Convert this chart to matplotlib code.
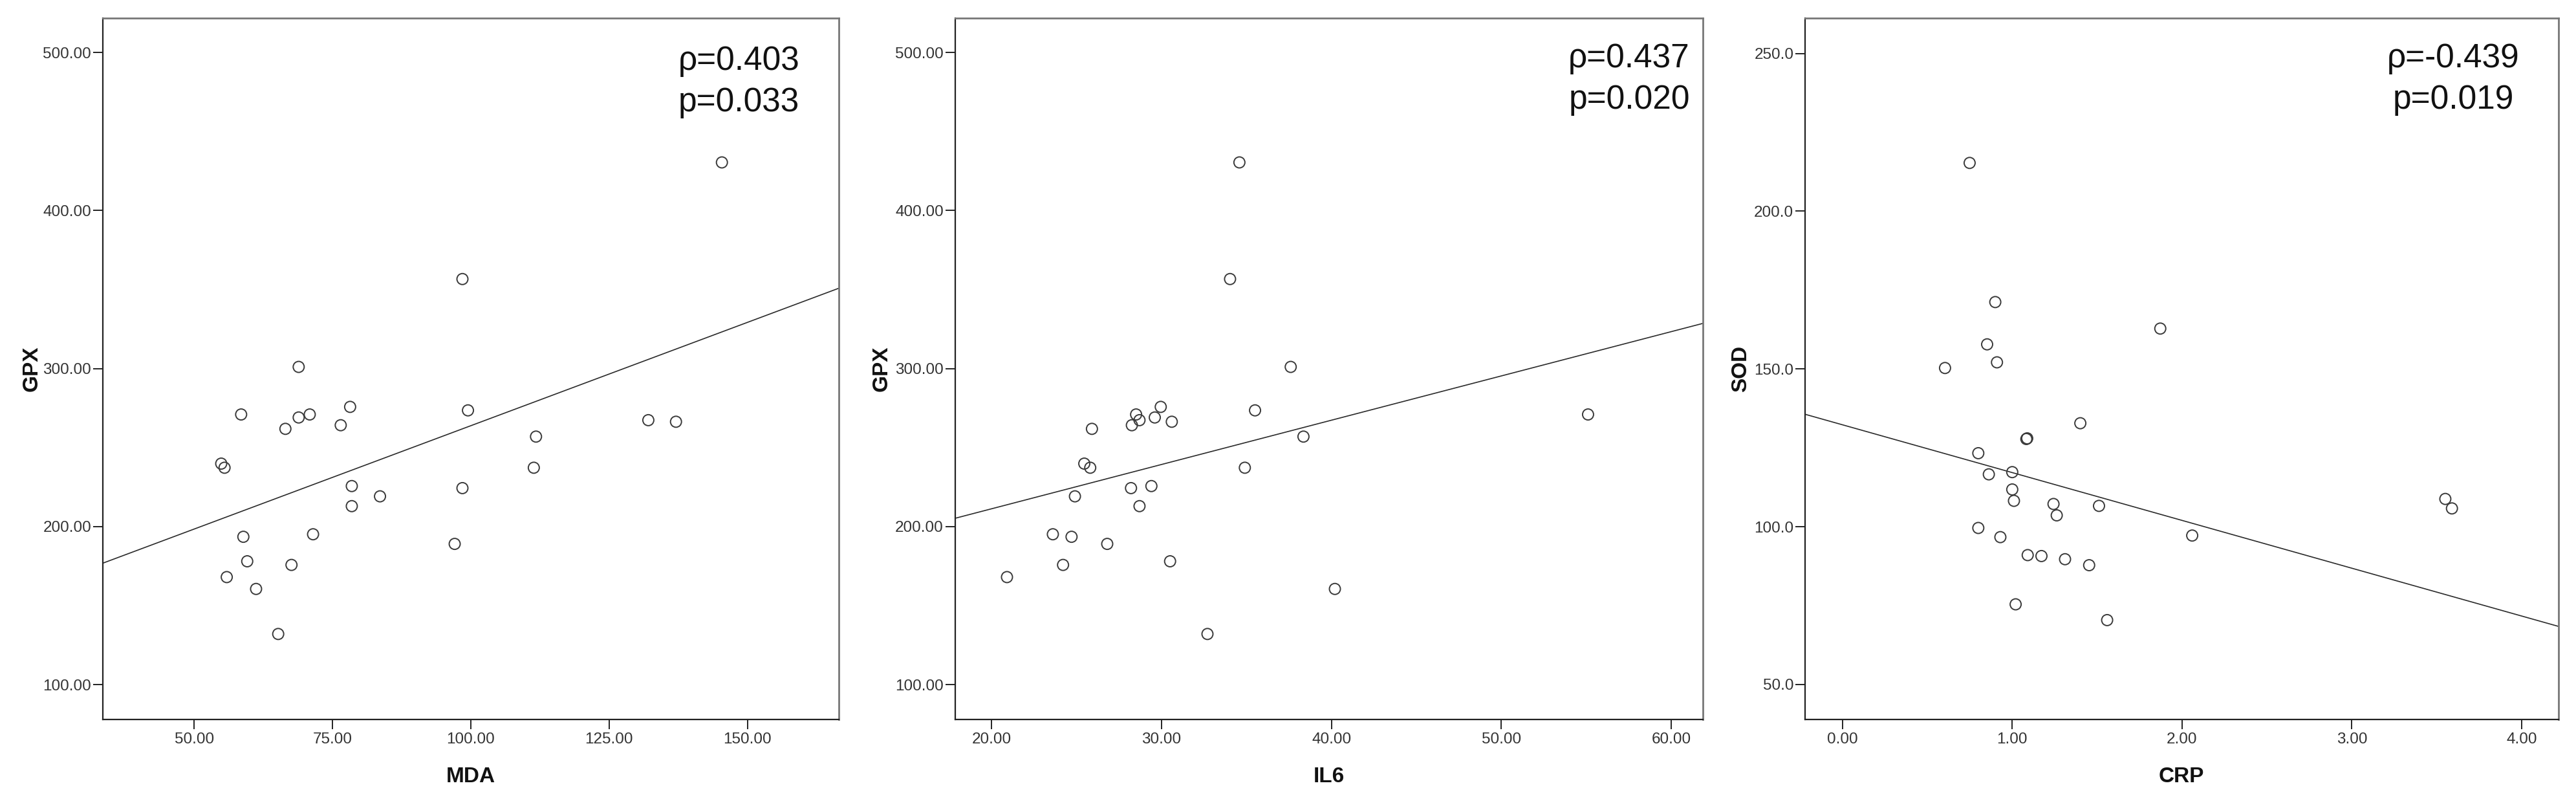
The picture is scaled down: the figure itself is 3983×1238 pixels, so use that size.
import numpy as np
import matplotlib
matplotlib.use("Agg")
import matplotlib.pyplot as plt
from matplotlib import font_manager as fm
from matplotlib.ticker import FormatStrFormatter, FixedLocator

# ---------------- data ----------------
MDA = [145.4, 98.5, 68.9, 58.5, 68.9, 70.9, 66.5, 78.2, 76.5, 99.5, 132.1, 137.1, 111.8, 111.4,
       54.9, 55.5, 78.5, 78.5, 83.6, 98.5, 58.9, 71.5, 97.1, 59.6, 67.6, 55.9, 61.2, 65.2]
IL6 = [34.58, 34.03, 37.6, 55.1, 29.6, 28.5, 25.9, 29.95, 28.25, 35.5, 28.7, 30.6, 38.35, 34.9,
       25.45, 25.8, 29.4, 28.7, 24.9, 28.2, 24.7, 23.6, 26.8, 30.5, 24.2, 20.9, 40.2, 32.7]
GPX = [430.4, 356.6, 301.0, 270.9, 269.0, 270.9, 261.8, 275.7, 264.1, 273.5, 267.3, 266.3, 256.9, 237.2,
       239.8, 237.2, 225.6, 212.9, 219.1, 224.3, 193.5, 195.1, 189.0, 178.0, 175.7, 168.0, 160.5, 132.0]
CRP = [0.749, 0.90, 1.872, 0.852, 0.910, 0.604, 1.401, 1.083, 1.088, 0.80, 1.0, 0.862, 1.0, 1.010,
       1.243, 1.262, 1.511, 3.551, 3.590, 0.80, 0.930, 2.060, 1.091, 1.172, 1.311, 1.453, 1.020, 1.559]
SOD = [215.3, 171.2, 162.8, 157.8, 152.1, 150.3, 132.8, 127.8, 128.0, 123.3, 117.3, 116.6, 111.8, 108.2,
       107.2, 103.6, 106.6, 108.8, 105.8, 99.6, 96.7, 97.2, 91.0, 90.7, 89.7, 87.8, 75.4, 70.4]

# fit lines (intercept, slope) as drawn in the reference
FIT_MDA = (133.0, 1.3077)
FIT_IL6 = (155.2, 2.802)
FIT_CRP = (132.3, -15.15)

RHO_LABELS = ["ρ=0.403", "ρ=0.437", "ρ=-0.439"]
P_LABELS = ["p=0.033", "p=0.020", "p=0.019"]

X_LABELS = ["MDA", "IL6", "CRP"]
Y_LABELS = ["GPX", "GPX", "SOD"]

MDA_TICKS = [50, 75, 100, 125, 150]
IL6_TICKS = [20, 30, 40, 50, 60]
CRP_TICKS = [0, 1, 2, 3, 4]
GPX_TICKS = [100, 200, 300, 400, 500]
SOD_TICKS = [50, 100, 150, 200, 250]

# ---------------- fonts: prefer a narrow face like the reference ----------------
REG = ['Liberation Sans', 'DejaVu Sans']
names = {f.name for f in fm.fontManager.ttflist}
if 'Liberation Sans Narrow' in names:
    NARROW = ['Liberation Sans Narrow', 'Liberation Sans']
    TICK_FS, LAB_FS = 19.5, 27
else:
    NARROW = REG
    TICK_FS, LAB_FS = 17.5, 24

W, H = 3983, 1238
fig = plt.figure(figsize=(W / 100, H / 100), dpi=100)
fig.patch.set_facecolor('white')

top_px, bot_px = 28, 1112
panels = [
    dict(left=159, right=1296.7, x=MDA, y=GPX, fit=FIT_MDA, xlim=(33.5, 166.5), ylim=(77.9, 521.7),
         xt=MDA_TICKS, yt=GPX_TICKS, yfmt='%.2f', tx=0.8645, ylab_x=-0.0826),
    dict(left=1476.6, right=2632.5, x=IL6, y=GPX, fit=FIT_IL6, xlim=(17.84, 61.84), ylim=(77.9, 521.7),
         xt=IL6_TICKS, yt=GPX_TICKS, yfmt='%.2f', tx=0.9018, ylab_x=-0.0845),
    dict(left=2791.1, right=3955.5, x=CRP, y=SOD, fit=FIT_CRP, xlim=(-0.22, 4.216), ylim=(38.9, 261.2),
         xt=CRP_TICKS, yt=SOD_TICKS, yfmt='%.1f', tx=0.8608, ylab_x=-0.0722),
]

for i, p in enumerate(panels):
    ax = fig.add_axes([p['left'] / W, 1 - bot_px / H, (p['right'] - p['left']) / W, (bot_px - top_px) / H])
    ax.set_xlim(*p['xlim'])
    ax.set_ylim(*p['ylim'])

    # regression line across the axis range
    b0, b1 = p['fit']
    xs = np.array(ax.get_xlim())
    ax.plot(xs, b0 + b1 * xs, color='#2a2a2a', lw=1.2, zorder=2)

    ax.scatter(p['x'], p['y'], s=150, facecolors='none', edgecolors='#3a3a3a', linewidths=1.4, zorder=3)

    ax.xaxis.set_major_locator(FixedLocator(p['xt']))
    ax.yaxis.set_major_locator(FixedLocator(p['yt']))
    ax.xaxis.set_major_formatter(FormatStrFormatter('%.2f'))
    ax.yaxis.set_major_formatter(FormatStrFormatter(p['yfmt']))

    ax.tick_params(axis='both', direction='out', length=10.8, width=1.4, color='#222222')
    ax.tick_params(axis='x', pad=3.6)
    ax.tick_params(axis='y', pad=2.0)
    for lab in ax.get_xticklabels() + ax.get_yticklabels():
        lab.set_fontfamily(NARROW)
        lab.set_fontsize(TICK_FS)
        lab.set_color('#333333')

    for side in ['left', 'bottom']:
        ax.spines[side].set_color('#222222')
        ax.spines[side].set_linewidth(1.6)
    for side in ['top', 'right']:
        ax.spines[side].set_color('#777777')
        ax.spines[side].set_linewidth(2.0)

    ax.set_xlabel(X_LABELS[i], fontfamily=NARROW, fontweight='bold', fontsize=LAB_FS, color='#111111')
    ax.set_ylabel(Y_LABELS[i], fontfamily=NARROW, fontweight='bold', fontsize=LAB_FS, color='#111111')
    ax.xaxis.set_label_coords(0.5, -0.0673)
    ax.yaxis.set_label_coords(p['ylab_x'], 0.5)

    y1 = 0.9262 if i == 0 else 0.930
    y2 = 0.8672 if i == 0 else 0.871
    ax.text(p['tx'], y1, RHO_LABELS[i], transform=ax.transAxes, ha='center', va='baseline',
            fontfamily=REG, fontsize=37, color='#111111')
    ax.text(p['tx'], y2, P_LABELS[i], transform=ax.transAxes, ha='center', va='baseline',
            fontfamily=REG, fontsize=37, color='#111111')

fig.savefig('out.png', dpi=100, facecolor='white')
